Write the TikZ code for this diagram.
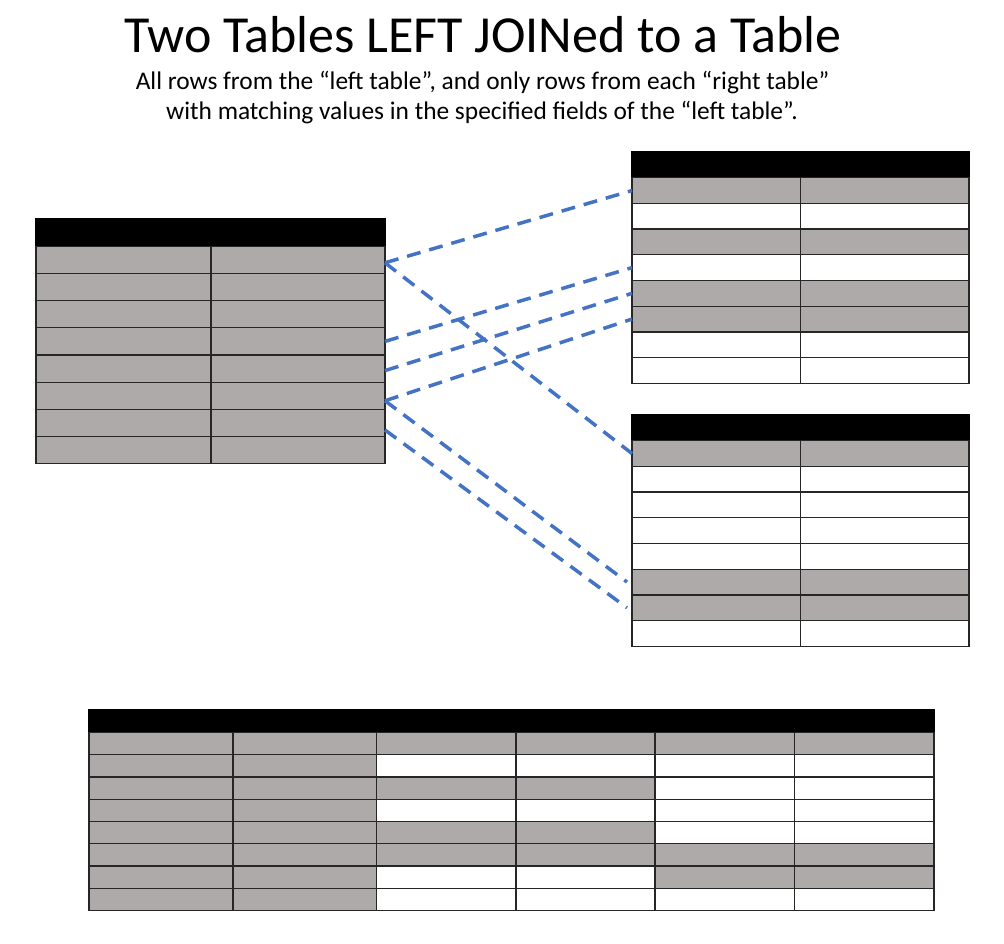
\documentclass[tikz,border=0pt]{standalone}
\usepackage{fontspec}
\setmainfont{Carlito}
\definecolor{cellgray}{HTML}{AEAAAA}
\definecolor{joinblue}{HTML}{4472C4}
\begin{document}
\begin{tikzpicture}[x=1pt,y=-1pt,
	cell/.style={draw=black!85,line width=1.3pt,inner sep=0pt,outer sep=0pt,anchor=north west},
	hdr/.style={cell,fill=black,draw=black},
	rule/.style={draw=black!85,line width=1.3pt},
	joinline/.style={draw=joinblue,line width=3.5pt,dash pattern=on 14pt off 9pt}]
	\useasboundingbox(0,0)rectangle(1004,944);
	% heading
	\node[anchor=base](title)at(483,53){\fontsize{52}{60}\selectfont Two Tables LEFT JOINed to a Table};
	\node[anchor=base,font=\fontsize{25.4}{30}\selectfont](sub1)at(482.5,90){All rows from the “left table”, and only rows from each “right table”};
	\node[anchor=base,font=\fontsize{25.4}{30}\selectfont](sub2)at(482,120){with matching values in the specified fields of the “left table”.};
	% left table
	\node[hdr,minimum width=349pt,minimum height=27.2pt](lhead)at(36,219){};
	\foreach \i in {1,...,8}
		\node[cell,fill=cellgray,minimum width=349pt,minimum height=27.2pt](l\i)at(36,{219+27.2*\i}){};
	\draw[rule](211,246.2)--(211,463.8);
	% right tables
	\node[hdr,minimum width=337pt,minimum height=25.7pt](ahead)at(632,152){};
	\foreach \i/\f in {1/cellgray,2/white,3/cellgray,4/white,5/cellgray,6/cellgray,7/white,8/white}
		\node[cell,fill=\f,minimum width=337pt,minimum height=25.7pt](a\i)at(632,{152+25.7*\i}){};
	\draw[rule](800.5,177.7)--(800.5,383.3);
	\node[hdr,minimum width=337pt,minimum height=25.7pt](bhead)at(632,415){};
	\foreach \i/\f in {1/cellgray,2/white,3/white,4/white,5/white,6/cellgray,7/cellgray,8/white}
		\node[cell,fill=\f,minimum width=337pt,minimum height=25.7pt](b\i)at(632,{415+25.7*\i}){};
	\draw[rule](800.5,440.7)--(800.5,646.3);
	% joins
	\draw[joinline]([yshift=-3pt]l1.east)--(a1.west);
	\draw[joinline]([yshift=-3pt]l1.east)--(b1.west);
	\draw[joinline](l4.east)--(a4.west);
	\draw[joinline]([yshift=-2pt]l5.east)--(a5.west);
	\draw[joinline]([yshift=-5pt]l6.east)--(a6.west);
	\draw[joinline]([yshift=-5pt]l6.east)--([xshift=-5pt]b6.west);
	\draw[joinline]([yshift=-7pt]l7.east)--([xshift=-5pt]b7.west);
	% result table
	\node[hdr,minimum width=845pt,minimum height=22.3pt](rhead)at(89,710){};
	\foreach \i/\p/\q in {1/cellgray/cellgray,2/white/white,3/cellgray/white,4/white/white,5/cellgray/white,6/cellgray/cellgray,7/white/cellgray,8/white/white}{
		\node[cell,fill=cellgray,minimum width=287.7pt,minimum height=22.3pt](ra\i)at(89,{710+22.3*\i}){};
		\node[cell,fill=\p,minimum width=278.3pt,minimum height=22.3pt](rb\i)at(376.7,{710+22.3*\i}){};
		\node[cell,fill=\q,minimum width=279pt,minimum height=22.3pt](rc\i)at(655,{710+22.3*\i}){};
	}
	\draw[rule](233,732.3)--(233,910.7) (516,732.3)--(516,910.7) (794.3,732.3)--(794.3,910.7);
\end{tikzpicture}
\end{document}
